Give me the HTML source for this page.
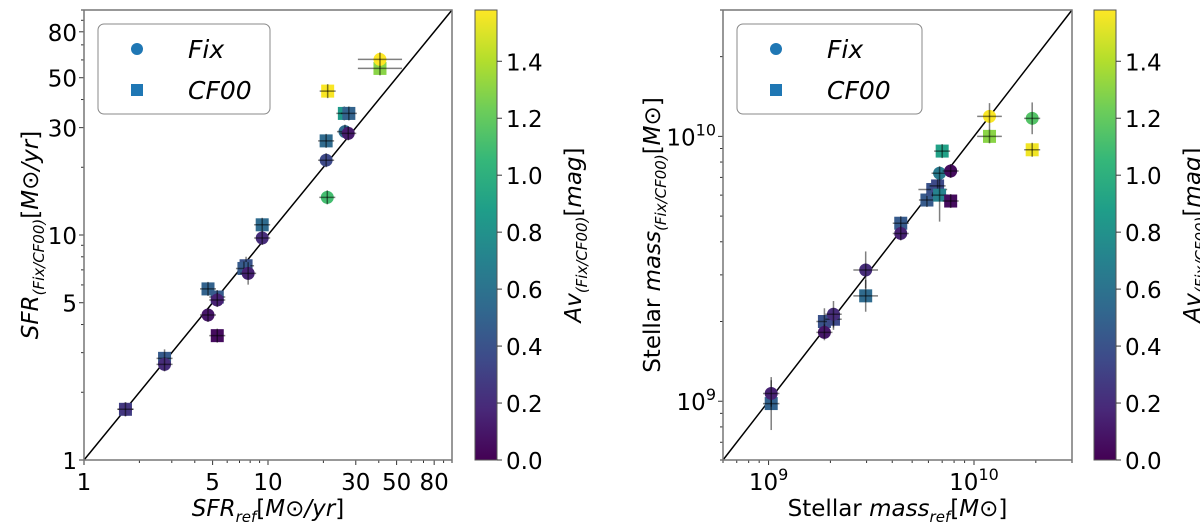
<!DOCTYPE html>
<html><head><meta charset="utf-8">
<style>
html,body{margin:0;padding:0;background:#fff;width:1200px;height:526px;overflow:hidden}
svg{font-family:"DejaVu Sans","Liberation Sans",sans-serif}
</style></head>
<body>
<svg id="fig" width="1200" height="526" xmlns="http://www.w3.org/2000/svg"></svg>
<script>
// ---- Left panel data (SFR) ----
const sfrFixRef = [1.68,2.74,4.72,5.3,7.8,9.3,21,20.7,26.2,27.3,40.6];
const sfrFixVal = [1.68,2.66,4.41,5.14,6.75,9.7,14.7,21.5,28.8,28.3,60.3];
const sfrFixAv  = [0.25,0.2,0.1,0.15,0.15,0.2,1.1,0.35,0.55,0.12,1.58];
const sfrFixYerr = [0.02,0.02,0.02,0.02,0.05,0.02,0.02,0.02,0.02,0.02,0.02];
const sfrFixXerr = [0.02,0.02,0.03,0.03,0.03,0.02,0.02,0.03,0.03,0.03,0.12];
const sfrCfRef = [1.68,2.74,4.72,5.3,5.3,7.6,7.4,9.3,21.1,26.0,27.5,20.7,40.6];
const sfrCfVal = [1.68,2.83,5.76,5.3,3.57,7.3,7.1,11.1,43.6,34.7,34.7,26.2,55];
const sfrCfAv  = [0.3,0.45,0.5,0.45,0.05,0.4,0.45,0.55,1.57,0.85,0.5,0.55,1.3];
const sfrCfYerr = [0.02,0.04,0.02,0.03,0.02,0.04,0.02,0.02,0.02,0.02,0.02,0.02,0.02];
const sfrCfXerr = [0.02,0.02,0.03,0.03,0.03,0.03,0.03,0.02,0.02,0.03,0.03,0.04,0.12];
const sfrTicks = [1,5,10,30,50,80];
// ---- Right panel data (stellar mass) ----
const mFixRef = [1.03e9,1.87e9,2.07e9,2.97e9,4.4e9,6.8e9,7.7e9,1.19e10,1.92e10];
const mFixVal = [1.07e9,1.82e9,2.13e9,3.13e9,4.3e9,7.26e9,7.4e9,1.19e10,1.17e10];
const mFixAv  = [0.15,0.1,0.2,0.2,0.15,0.65,0.05,1.57,1.15];
const mFixYerr = [0.05,0.03,0.05,0.07,0.02,0.02,0.02,0.05,0.06];
const mFixXerr = [0.04,0.03,0.04,0.06,0.02,0.02,0.03,0.06,0.02];
const mCfRef = [1.03e9,1.87e9,2.07e9,2.97e9,4.4e9,5.9e9,6.3e9,6.65e9,6.8e9,7.7e9,7.0e9,1.19e10,1.92e10];
const mCfVal = [9.8e8,2.0e9,2.04e9,2.5e9,4.7e9,5.75e9,6.3e9,6.5e9,6.0e9,5.7e9,8.8e9,1.0e10,8.9e9];
const mCfAv  = [0.5,0.4,0.35,0.55,0.45,0.45,0.4,0.35,0.7,0.05,0.9,1.3,1.55];
const mCfYerr = [0.1,0.05,0.04,0.06,0.02,0.02,0.02,0.02,0.1,0.02,0.02,0.02,0.02];
const mCfXerr = [0.04,0.03,0.04,0.06,0.02,0.03,0.07,0.03,0.04,0.03,0.02,0.06,0.02];
const cbTicks = [0.0,0.2,0.4,0.6,0.8,1.0,1.2,1.4];
const cbMax = 1.58;

const NS="http://www.w3.org/2000/svg";
const svg=document.getElementById('fig');
function mk(tag,attrs,parent){const e=document.createElementNS(NS,tag);for(const k in attrs)e.setAttribute(k,attrs[k]);(parent||svg).appendChild(e);return e;}
const VIR=[[68,1,84],[72,40,120],[62,74,137],[49,104,142],[38,130,142],[31,158,137],[53,183,121],[109,205,89],[180,222,44],[253,231,37]];
function viridis(t){t=Math.max(0,Math.min(1,t));const f=t*9,i=Math.min(8,Math.floor(f)),r=f-i;const a=VIR[i],b=VIR[i+1];return `rgb(${a.map((v,k)=>Math.round(v+(b[k]-v)*r)).join(',')})`;}

function panel(o){
  const {x0,x1,y0,y1,lmin,lmax}=o;
  const X=v=>x0+(Math.log10(v)-lmin)/(lmax-lmin)*(x1-x0);
  const Y=v=>y1-(Math.log10(v)-lmin)/(lmax-lmin)*(y1-y0);
  const pxPerDex=(x1-x0)/(lmax-lmin), pyPerDex=(y1-y0)/(lmax-lmin);
  const g=mk('g',{});
  
  
  for(let d=Math.floor(lmin);d<=Math.ceil(lmax);d++)for(let m=1;m<10;m++){
    const v=m*Math.pow(10,d),l=Math.log10(v);if(l<lmin-1e-9||l>lmax+1e-9)continue;
    const major=o.major(v);const len=major?5:3;
    mk('line',{x1:X(v),x2:X(v),y1:y1,y2:y1+len,stroke:'#333','stroke-width':1},g);
    mk('line',{x1:x0,x2:x0-len,y1:Y(v),y2:Y(v),stroke:'#333','stroke-width':1},g);
  }
  const dl=mk('line',{x1:x0,y1:y1,x2:x1,y2:y0,stroke:'#000','stroke-width':1.5},g);
  
  
  function pts(refs,vals,avs,xe,ye,shape,nm){
    refs.forEach((r,i)=>{
      const cx=X(r),cy=Y(vals[i]),c=viridis(avs[i]/cbMax);
      let e;
      if(shape==='c')e=mk('circle',{cx,cy,r:6.5,fill:c},g);
      else e=mk('rect',{x:cx-6.5,y:cy-6.5,width:13,height:13,fill:c},g);
      
      
      const hx=Math.max(8,xe[i]*pxPerDex),hy=Math.max(7,ye[i]*pyPerDex);
      mk('line',{x1:cx-hx,x2:cx+hx,y1:cy,y2:cy,stroke:'rgba(0,0,0,0.5)','stroke-width':1.5},g);
      mk('line',{x1:cx,x2:cx,y1:cy-hy,y2:cy+hy,stroke:'rgba(0,0,0,0.5)','stroke-width':1.5},g);
    });
  }
  pts(o.cfR,o.cfV,o.cfA,o.cfXe,o.cfYe,'s','cf00-point');
  pts(o.fxR,o.fxV,o.fxA,o.fxXe,o.fxYe,'c','fix-point');
  mk('rect',{x:x0,y:y0,width:x1-x0,height:y1-y0,fill:'none',stroke:'#777','stroke-width':1.5},g);
  o.ticks.forEach(t=>{
    const tx=mk('text',{x:X(t.v),y:y1+30,'text-anchor':'middle','font-size':23},g);tx.innerHTML=t.s;
    
    const ty=mk('text',{x:x0-7,y:Y(t.v)+9,'text-anchor':'end','font-size':23},g);ty.innerHTML=t.s;
    
  });
  const lg=mk('g',{},g);
  
  
  mk('rect',{x:x0+14,y:24,width:o.legW,height:90,rx:6,fill:'#fff',stroke:'#888','stroke-width':1},lg);
  mk('circle',{cx:x0+53,cy:49,r:6,fill:'#1f77b4'},lg);
  mk('rect',{x:x0+47,y:84,width:12,height:12,fill:'#1f77b4'},lg);
  const t1=mk('text',{x:x0+104,y:58,'font-size':25,'font-style':'italic'},lg);t1.textContent='Fix';
  
  const t2=mk('text',{x:x0+104,y:99,'font-size':25,'font-style':'italic'},lg);t2.textContent='CF00';
  
  const xl=mk('text',{x:(x0+x1)/2,y:516,'text-anchor':'middle','font-size':23},g);xl.innerHTML=o.xlab;
  
  const yl=mk('text',{x:0,y:0,'text-anchor':'middle','font-size':23,transform:`translate(${o.ylx},${(y0+y1)/2}) rotate(-90)`},g);yl.innerHTML=o.ylab;
  
  const cb=mk('g',{},g);
  
  
  const gid='grad'+o.cbx;
  const defs=mk('defs',{},cb);const lgd=mk('linearGradient',{id:gid,x1:0,y1:1,x2:0,y2:0},defs);
  VIR.forEach((c,i)=>mk('stop',{offset:i/9,'stop-color':`rgb(${c.join(',')})`},lgd));
  mk('rect',{x:o.cbx,y:y0,width:22,height:y1-y0,fill:`url(#${gid})`,stroke:'#555','stroke-width':1},cb);
  cbTicks.forEach(t=>{
    const yy=y1-t/cbMax*(y1-y0);
    mk('line',{x1:o.cbx+22,x2:o.cbx+27,y1:yy,y2:yy,stroke:'#333'},cb);
    const tt=mk('text',{x:o.cbx+31,y:yy+9,'font-size':23},cb);tt.textContent=t.toFixed(1);
    
  });
  const cl=mk('text',{x:0,y:0,'text-anchor':'middle','font-size':23,transform:`translate(${o.cbx+106},${(y0+y1)/2}) rotate(-90)`},cb);
  cl.innerHTML='<tspan font-style="italic">Av</tspan><tspan font-size="15" dy="6" font-style="italic">(Fix/CF00)</tspan><tspan dy="-6">[</tspan><tspan font-style="italic">mag</tspan>]';
  
}

panel({name:'sfr-panel',x0:84,x1:452,y0:10,y1:460,lmin:0,lmax:2,
  fxR:sfrFixRef,fxV:sfrFixVal,fxA:sfrFixAv,fxXe:sfrFixXerr,fxYe:sfrFixYerr,
  cfR:sfrCfRef,cfV:sfrCfVal,cfA:sfrCfAv,cfXe:sfrCfXerr,cfYe:sfrCfYerr,
  major:v=>sfrTicks.some(t=>Math.abs(t-v)<1e-6),
  ticks:sfrTicks.map(v=>({v,s:String(v)})),legW:172,
  xlab:'<tspan font-style="italic">SFR</tspan><tspan font-size="15" dy="6" font-style="italic">ref</tspan><tspan dy="-6">[</tspan><tspan font-style="italic">M</tspan>⊙<tspan font-style="italic">/yr</tspan>]',
  ylx:38,
  ylab:'<tspan font-style="italic">SFR</tspan><tspan font-size="15" dy="6" font-style="italic">(Fix/CF00)</tspan><tspan dy="-6">[</tspan><tspan font-style="italic">M</tspan>⊙<tspan font-style="italic">/yr</tspan>]',
  cbx:475});
panel({name:'mass-panel',x0:723,x1:1072,y0:10,y1:460,lmin:Math.log10(6e8),lmax:Math.log10(3e10),
  fxR:mFixRef,fxV:mFixVal,fxA:mFixAv,fxXe:mFixXerr,fxYe:mFixYerr,
  cfR:mCfRef,cfV:mCfVal,cfA:mCfAv,cfXe:mCfXerr,cfYe:mCfYerr,
  major:v=>Math.abs(Math.log10(v)%1)<1e-6,
  ticks:[{v:1e9,s:'10<tspan font-size="16" dy="-10">9</tspan>'},{v:1e10,s:'10<tspan font-size="16" dy="-10">10</tspan>'}],legW:185,
  xlab:'Stellar <tspan font-style="italic">mass</tspan><tspan font-size="15" dy="6" font-style="italic">ref</tspan><tspan dy="-6">[</tspan><tspan font-style="italic">M</tspan>⊙]',
  ylx:660,
  ylab:'Stellar <tspan font-style="italic">mass</tspan><tspan font-size="15" dy="6" font-style="italic">(Fix/CF00)</tspan><tspan dy="-6">[</tspan><tspan font-style="italic">M</tspan>⊙]',
  cbx:1094});
</script>
</body></html>
